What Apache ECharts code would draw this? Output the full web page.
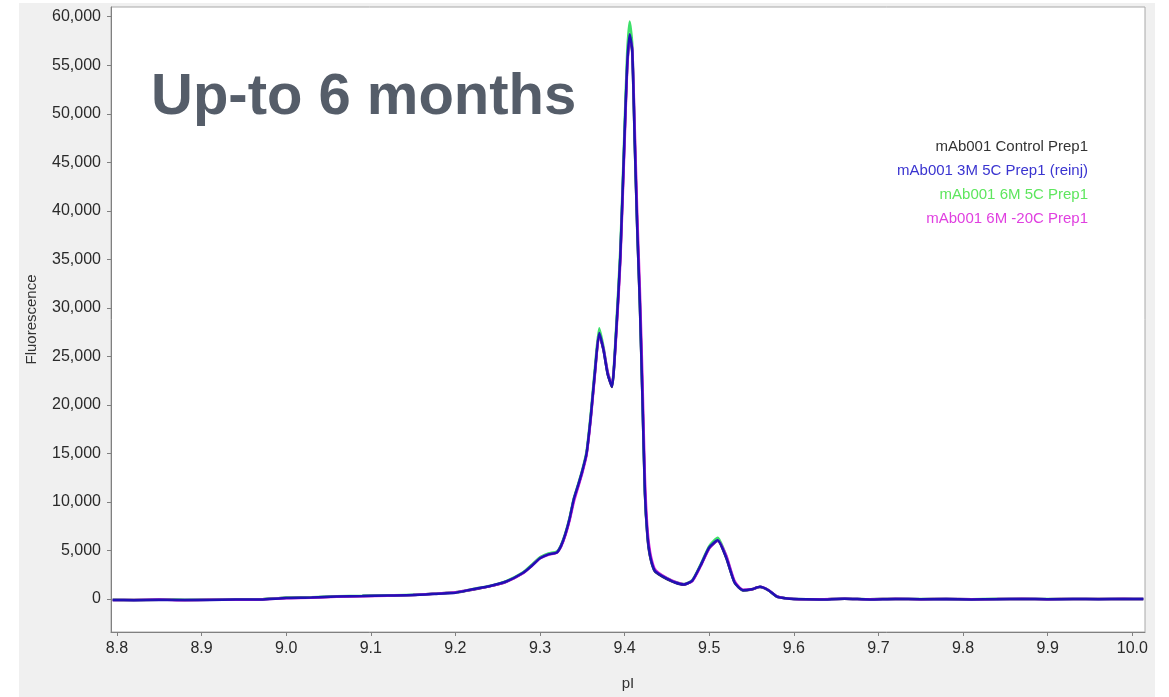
<!DOCTYPE html>
<html>
<head>
<meta charset="utf-8">
<script src="https://cdn.jsdelivr.net/npm/echarts@6/dist/echarts.min.js"></script>
<style>
html,body{margin:0;padding:0;background:#ffffff;}
#chart{width:1169px;height:697px;}
</style>
</head>
<body>
<div id="chart"></div>
<script>
// ---- data ----
const seriesNames = ['mAb001 Control Prep1', 'mAb001 3M 5C Prep1 (reinj)', 'mAb001 6M 5C Prep1', 'mAb001 6M -20C Prep1'];
const xTicks = [8.8, 8.9, 9.0, 9.1, 9.2, 9.3, 9.4, 9.5, 9.6, 9.7, 9.8, 9.9, 10.0];
const yTicks = [0, 5000, 10000, 15000, 20000, 25000, 30000, 35000, 40000, 45000, 50000, 55000, 60000];
const pI = [8.795, 8.82, 8.85, 8.88, 8.91, 8.94, 8.97, 9.00, 9.03, 9.06, 9.09, 9.12, 9.15, 9.18, 9.20, 9.22, 9.24, 9.26, 9.28, 9.29,
  9.30, 9.31, 9.32, 9.325, 9.33, 9.335, 9.34, 9.345, 9.35, 9.355, 9.36, 9.365, 9.37, 9.375, 9.38, 9.385, 9.39, 9.395, 9.40, 9.403,
  9.406, 9.409, 9.412, 9.415, 9.418, 9.421, 9.424, 9.427, 9.43, 9.435, 9.44, 9.45, 9.46, 9.47, 9.48, 9.49, 9.50, 9.51, 9.52, 9.53,
  9.54, 9.55, 9.56, 9.57, 9.58, 9.59, 9.60, 9.63, 9.66, 9.69, 9.72, 9.75, 9.78, 9.81, 9.84, 9.87, 9.90, 9.93, 9.96, 9.99, 10.013];
const control = [-90, -110, -70, -100, -80, -60, -40, 120, 160, 260, 310, 360, 420, 560, 660, 950, 1300, 1780, 2680, 3450,
  4250, 4620, 4820, 5480, 6650, 8250, 10250, 11650, 13150, 14950, 18750, 23400, 27300, 25650, 23150, 21850, 27400, 35400, 47800, 54800,
  58100, 56300, 46800, 37800, 30300, 20800, 10800, 6400, 4400, 2950, 2550, 2050, 1680, 1480, 1880, 3480, 5250, 6000, 4250, 1680,
  880, 980, 1230, 880, 240, 70, -10, -40, 20, -30, 10, -20, 0, -30, -10, 10, -20, 0, -10, 10, -10];
const m3_5C = [-100, -120, -80, -110, -90, -60, -50, 100, 150, 250, 300, 350, 400, 550, 650, 1000, 1320, 1800, 2700, 3400,
  4200, 4600, 4800, 5500, 6700, 8300, 10300, 11700, 13200, 15000, 18800, 23500, 27400, 25700, 23200, 21900, 27500, 35500, 48000, 55000,
  58200, 56500, 47000, 38000, 30500, 21000, 11000, 6500, 4500, 3000, 2600, 2100, 1700, 1500, 1900, 3500, 5300, 6050, 4300, 1700,
  900, 1000, 1250, 900, 250, 80, 0, -50, 20, -40, 10, -30, 0, -40, -20, 10, -30, 0, -20, 10, -10];
const m6_5C = [-80, -100, -60, -90, -70, -50, -30, 130, 180, 290, 330, 380, 430, 580, 690, 1020, 1350, 1850, 2750, 3500,
  4300, 4700, 4900, 5600, 6800, 8400, 10400, 11800, 13300, 15200, 19100, 23900, 27900, 26000, 23400, 22100, 28000, 36200, 48800, 56200,
  59500, 57200, 47500, 38300, 30700, 21200, 11200, 6600, 4600, 3050, 2650, 2150, 1750, 1550, 1950, 3600, 5450, 6300, 4450, 1750,
  920, 1020, 1270, 920, 260, 90, 10, -30, 30, -20, 20, -10, 10, -20, 0, 20, -10, 10, -10, 20, 0];
const m6_m20C = [-110, -90, -60, -120, -80, -70, -40, 90, 140, 240, 290, 340, 420, 570, 700, 980, 1300, 1760, 2650, 3380,
  4180, 4560, 4780, 5420, 6550, 8100, 10000, 11500, 13000, 14800, 18500, 23200, 27200, 25800, 23400, 22000, 27000, 34800, 47000, 54500,
  57800, 56800, 48500, 39500, 32000, 23000, 12500, 7200, 4900, 3200, 2700, 2150, 1750, 1520, 1850, 3400, 5200, 6000, 4500, 1850,
  950, 1000, 1260, 930, 280, 90, 10, -20, 30, -30, 20, -20, 10, -30, -10, 20, -20, 10, -10, 20, -10];
const seriesValues = [control, m3_5C, m6_5C, m6_m20C];
const lineColors = ['#222244', '#2010b4', '#3ee06a', '#e020e0'];
const legendColors = ['#333333', '#3a34d0', '#5ee65e', '#e040e0'];
const drawOrder = [0, 2, 3, 1];

// ---- chart ----
const chart = echarts.init(document.getElementById('chart'), null, {renderer: 'canvas'});
const series = drawOrder.map((idx, k) => ({
  name: seriesNames[idx],
  type: 'line',
  data: pI.map((x, i) => [x, seriesValues[idx][i]]),
  showSymbol: false,
  smooth: 0.2,
  lineStyle: {color: lineColors[idx], width: 2.5},
  itemStyle: {color: lineColors[idx]},
  z: 2 + k,
  animation: false
}));

const legendGraphics = seriesNames.map((n, i) => ({
  type: 'text',
  right: 1169 - 1088,
  top: 139 + i * 24,
  z: 100,
  style: {text: n, fill: legendColors[i], font: '15px "Liberation Sans", Arial, sans-serif', textAlign: 'right'}
}));

const FONT = '"Liberation Sans", Arial, sans-serif';
chart.setOption({
  animation: false,
  backgroundColor: '#ffffff',
  grid: {left: 111, top: 7, right: 24, bottom: 65, show: true, backgroundColor: '#ffffff', borderColor: '#a8a8a8', borderWidth: 1},
  xAxis: {
    type: 'value', min: 8.793, max: 10.015,
    name: 'pI', nameLocation: 'middle', nameGap: 44,
    nameTextStyle: {color: '#333', fontSize: 15, fontFamily: FONT},
    axisLine: {show: true, onZero: false, lineStyle: {color: '#808080', width: 1}},
    axisTick: {show: true, length: 4, customValues: xTicks, lineStyle: {color: '#808080'}},
    axisLabel: {customValues: xTicks, color: '#2a2a2a', fontSize: 16, margin: 9, fontFamily: FONT,
      formatter: v => v.toFixed(1)},
    splitLine: {show: false}
  },
  yAxis: {
    type: 'value', min: -3400, max: 61000,
    name: 'Fluorescence', nameLocation: 'middle', nameGap: 72, nameRotate: 90,
    nameTextStyle: {color: '#333', fontSize: 15, fontFamily: FONT},
    axisLine: {show: true, onZero: false, lineStyle: {color: '#808080', width: 1}},
    axisTick: {show: true, length: 4, customValues: yTicks, lineStyle: {color: '#808080'}},
    axisLabel: {customValues: yTicks, color: '#2a2a2a', fontSize: 16, margin: 10, fontFamily: FONT,
      formatter: v => v.toLocaleString('en-US')},
    splitLine: {show: false}
  },
  graphic: [
    {type: 'rect', left: 19, top: 3, z: -10, silent: true, shape: {width: 1136, height: 694}, style: {fill: '#f0f0f0'}},
    {type: 'text', left: 151, top: 69, z: 100,
      style: {text: 'Up-to 6 months', fill: '#555d69', font: 'bold 58px ' + FONT}}
  ].concat(legendGraphics),
  series: series
});
</script>
</body>
</html>
